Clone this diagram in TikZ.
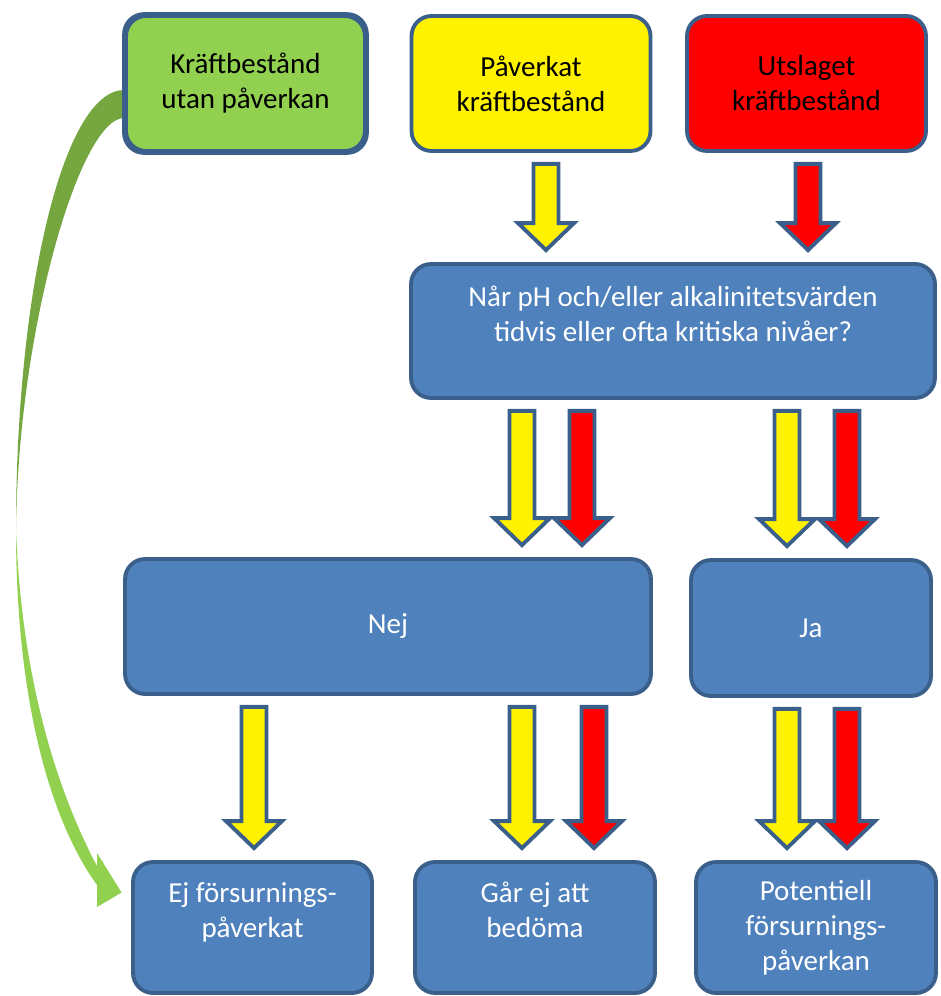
\documentclass[tikz,border=0pt]{standalone}
\usepackage{fontspec}
\setmainfont{Carlito}
\usetikzlibrary{calc}

\definecolor{boxblue}{HTML}{4F81BD}
\definecolor{edgeblue}{HTML}{3A5F8B}
\definecolor{grass}{HTML}{92D050}
\definecolor{darkgrass}{HTML}{75A640}

% fat down arrow: colour, column coordinate, from node, to node
\newcommand{\fatarrow}[4]{%
    \coordinate (fs) at ($(#2 |- #3.south)+(0,11)$);
    \coordinate (fe) at ($(#2 |- #4.north)+(0,-12)$);
    \draw[fatarrow, fill=#1] ($(fs)+(-12.5,0)$) -- ($(fs)+(12.5,0)$) -- ($(fe)+(12.5,-27)$)
        -- ($(fe)+(28,-27)$) -- (fe) -- ($(fe)+(-28,-27)$) -- ($(fe)+(-12.5,-27)$) -- cycle;
}

\begin{document}
\begin{tikzpicture}[x=0.02cm, y=-0.02cm,
    box/.style={draw=edgeblue, line width=2.2pt, rounded corners=0.4cm, align=center,
        minimum width=4.78cm, minimum height=2.7cm, inner sep=0pt,
        font=\fontsize{16.5}{19.9}\selectfont},
    bluebox/.style={box, fill=boxblue, text=white},
    fatarrow/.style={draw=edgeblue, line width=2.2pt, line join=miter}]

    \useasboundingbox (0,0) rectangle (940,996);

    %top row
    \node[box, fill=grass] (kraft) at (245.5,83.5) {Kräftbestånd\\utan påverkan};
    \node[box, fill=yellow] (paverkat) at (531,83.5) {Påverkat\\kräftbestånd};
    \node[box, fill=red] (utslaget) at (806.5,83.5) {Utslaget\\kräftbestånd};

    %question
    \node[bluebox, minimum width=10.48cm, minimum height=2.68cm] (fraga) at (673,331)
        {Når pH och/eller alkalinitetsvärden\\tidvis eller ofta kritiska nivåer?\\ \mbox{}};

    %answers
    \node[bluebox, minimum width=10.52cm] (nej) at (388,626.5) {Nej};
    \node[bluebox, minimum width=4.8cm, minimum height=2.72cm] (ja) at (811,628) {Ja};

    %outcomes
    \node[bluebox, minimum height=2.62cm] (ej) at (252.5,927.5) {Ej försurnings-\\påverkat\\ \mbox{}};
    \node[bluebox, minimum width=4.8cm, minimum height=2.62cm] (gar) at (535,927.5) {Går ej att\\bedöma\\ \mbox{}};
    \node[bluebox, minimum width=4.8cm, minimum height=2.62cm] (pot) at (816,927.5) {Potentiell\\försurnings-\\påverkan};

    %columns
    \coordinate (A) at (546,0);
    \coordinate (B) at (808,0);
    \coordinate (C) at (522,0);
    \coordinate (D) at (582,0);
    \coordinate (E) at (787,0);
    \coordinate (F) at (847,0);
    \coordinate (G) at (254,0);
    \coordinate (H) at (594,0);

    \fatarrow{yellow}{A}{paverkat}{fraga}
    \fatarrow{red}{B}{utslaget}{fraga}

    \fatarrow{yellow}{C}{fraga}{nej}
    \fatarrow{red}{D}{fraga}{nej}
    \fatarrow{yellow}{E}{fraga}{ja}
    \fatarrow{red}{F}{fraga}{ja}

    \fatarrow{yellow}{G}{nej}{ej}
    \fatarrow{yellow}{C}{nej}{gar}
    \fatarrow{red}{H}{nej}{gar}
    \fatarrow{yellow}{E}{ja}{pot}
    \fatarrow{red}{F}{ja}{pot}

    %curved arrow
    \coordinate (gs) at ($(kraft.west)+(0,20.5)$);
    \coordinate (gt) at ($(ej.west)+(-9.5,-35)$);

    \fill[darkgrass] ($(gs)+(0,-14)$) .. controls (64,90) and (16,287) .. (16,530)
        .. controls (18,330) and (80,118) .. ($(gs)+(0,14)$) -- cycle;
    \fill[grass] (16,530) .. controls (16,700) and (50,820) .. (97,885) -- (97,907) -- (gt)
        -- (97,853) -- (97,866) .. controls (62,800) and (22,690) .. (16,530) -- cycle;

    %redraw green box over arrow start
    \draw[draw=edgeblue, line width=2.2pt, rounded corners=0.4cm] (kraft.north west) rectangle (kraft.south east);

\end{tikzpicture}
\end{document}
